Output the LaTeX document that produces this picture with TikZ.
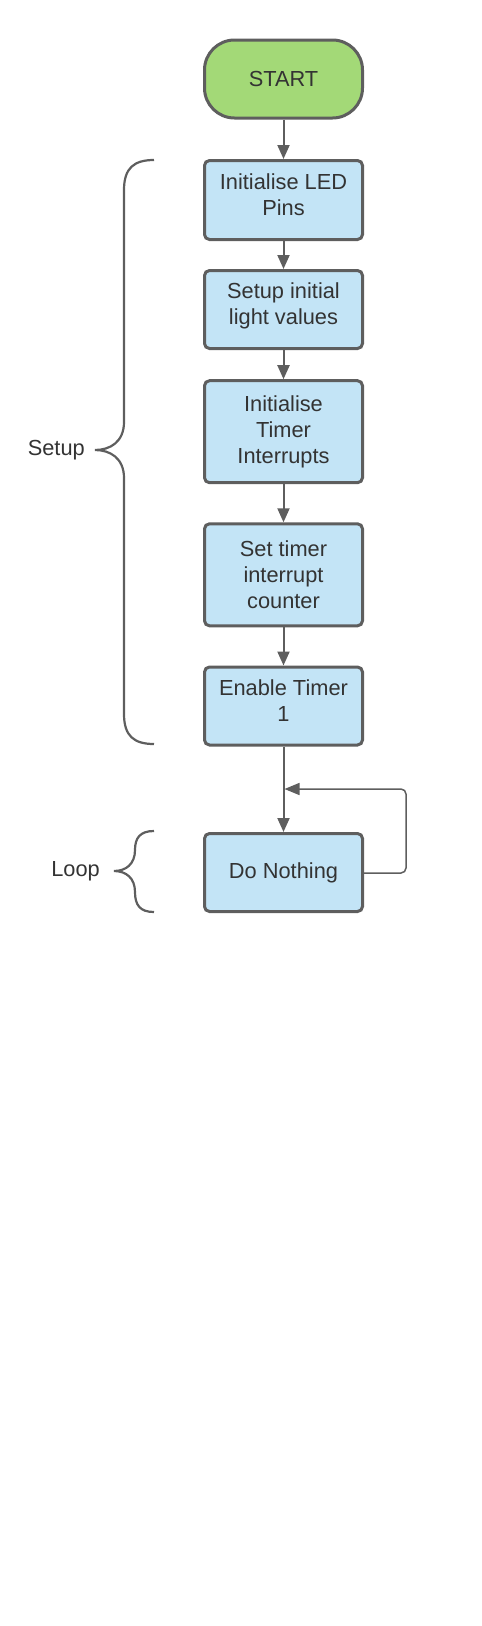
\documentclass[tikz,border=0pt]{standalone}
\usepackage{fontspec}
\setmainfont{Liberation Sans}
\usetikzlibrary{arrows.meta}
\definecolor{linegray}{HTML}{5E5E5E}
\definecolor{txtgray}{HTML}{333333}
\definecolor{startgreen}{HTML}{A3D977}
\definecolor{boxblue}{HTML}{C3E4F6}
\newcommand{\lowpad}{\rule[-11pt]{0pt}{1pt}}
\tikzset{
  flowbox/.style={draw=linegray, line width=3pt, fill=boxblue, rounded corners=5pt,
    minimum width=158pt, align=center, text=txtgray, inner sep=0pt,
    font=\fontsize{21.8}{26}\selectfont},
  startbox/.style={flowbox, fill=startgreen, rounded corners=30pt},
  flowarrow/.style={draw=linegray, line width=2pt, -{Triangle[length=14pt,width=12pt]}},
  looparrow/.style={draw=linegray, line width=1.5pt, rounded corners=5pt, -{Triangle[length=15pt,width=12pt]}},
  bracestyle/.style={draw=linegray, line width=2.2pt},
  lbl/.style={text=txtgray, font=\fontsize{21.8}{26}\selectfont, inner sep=0pt}
}
\begin{document}
\begin{tikzpicture}[x=1pt,y=-1pt]
\useasboundingbox (0,0) rectangle (482,1626);
\node[startbox, minimum height=78pt] (start) at (283.5,79) {START};
\node[flowbox, minimum height=79pt] (b1) at (283.5,200) {Initialise LED\\Pins\lowpad};
\node[flowbox, minimum height=78pt] (b2) at (283.5,309.5) {Setup initial\\light values\lowpad};
\node[flowbox, minimum height=102pt] (b3) at (283.5,431.7) {Initialise\\Timer\\Interrupts};
\node[flowbox, minimum height=102pt] (b4) at (283.5,574.8) {Set timer\\interrupt\\counter};
\node[flowbox, minimum height=78pt] (b5) at (283.5,706) {Enable Timer\\1\lowpad};
\node[flowbox, minimum height=78pt] (dn) at (283.5,872.5) {Do Nothing};

\draw[flowarrow] (start.south) -- (b1.north);
\draw[flowarrow] (b1.south) -- (b2.north);
\draw[flowarrow] (b2.south) -- (b3.north);
\draw[flowarrow] (b3.south) -- (b4.north);
\draw[flowarrow] (b4.south) -- (b5.north);
\draw[flowarrow] (b5.south) -- (dn.north);

\coordinate (lp1) at (406,873);
\coordinate (lp2) at (406,789);
\coordinate (lp3) at (284.5,789);
\draw[looparrow] (dn.east |- lp1) -- (lp1) -- (lp2) -- (lp3);

% Setup brace
\coordinate (sb) at (95,450);
\draw[bracestyle] (154,160) .. controls (134,160) and (124,168) .. (124,190)
  -- (124,422) .. controls (124,442) and (110,450) .. (sb)
  .. controls (110,450) and (124,458) .. (124,478)
  -- (124,714) .. controls (124,736) and (134,744) .. (154,744);
\node[lbl, anchor=east] (setup) at (85,450) {Setup};

% Loop brace
\coordinate (lb) at (114,871);
\draw[bracestyle] (154,831) .. controls (140,831) and (135,838) .. (135,850)
  .. controls (135,864) and (126,871) .. (lb)
  .. controls (126,871) and (135,878) .. (135,892)
  .. controls (135,905) and (140,912) .. (154,912);
\node[lbl, anchor=east] (loop) at (100,871) {Loop};
\end{tikzpicture}
\end{document}
